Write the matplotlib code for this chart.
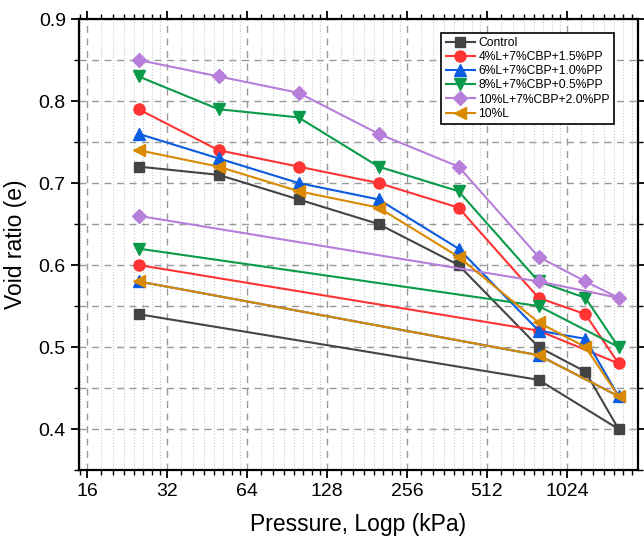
import numpy as np
import matplotlib
matplotlib.use("Agg")
import matplotlib.pyplot as plt
from matplotlib.ticker import LogLocator, FixedLocator, NullFormatter, MultipleLocator

plt.rcParams['font.family'] = ['Liberation Sans', 'DejaVu Sans']

# loading then unloading pressures (kPa)
load_p = [25, 50, 100, 200, 400, 800, 1200, 1600]
unload_p = [800, 25]

labels = ["Control", "4%L+7%CBP+1.5%PP", "6%L+7%CBP+1.0%PP",
          "8%L+7%CBP+0.5%PP", "10%L+7%CBP+2.0%PP", "10%L"]

control_load = [0.72, 0.71, 0.68, 0.65, 0.60, 0.50, 0.47, 0.40]
control_unload = [0.46, 0.54]
mix4_load = [0.79, 0.74, 0.72, 0.70, 0.67, 0.56, 0.54, 0.48]
mix4_unload = [0.52, 0.60]
mix6_load = [0.76, 0.73, 0.70, 0.68, 0.62, 0.52, 0.51, 0.44]
mix6_unload = [0.49, 0.58]
mix8_load = [0.83, 0.79, 0.78, 0.72, 0.69, 0.58, 0.56, 0.50]
mix8_unload = [0.55, 0.62]
mix10_load = [0.85, 0.83, 0.81, 0.76, 0.72, 0.61, 0.58, 0.56]
mix10_unload = [0.58, 0.66]
lime10_load = [0.74, 0.72, 0.69, 0.67, 0.61, 0.53, 0.50, 0.44]
lime10_unload = [0.49, 0.58]

series = [(control_load, control_unload), (mix4_load, mix4_unload),
          (mix6_load, mix6_unload), (mix8_load, mix8_unload),
          (mix10_load, mix10_unload), (lime10_load, lime10_unload)]
colors = ['#444444', '#ff3333', '#0b5ce0', '#0a9a4a', '#b77fd9', '#d98a00']
markers = ['s', 'o', '^', 'v', 'D', '<']
sizes = [7, 8, 8, 8, 7, 8]

xticks = [16, 32, 64, 128, 256, 512, 1024]
minor_subs = np.arange(1, 2, 0.125)

fig = plt.figure(figsize=(6.44, 5.43), dpi=100)
ax = fig.add_axes([0.1227, 0.1344, 0.868, 0.8306])

x = load_p + unload_p
for (ld, ul), lab, c, m, s in zip(series, labels, colors, markers, sizes):
    ax.plot(x, ld + ul, color=c, marker=m, markersize=s, lw=1.5, label=lab)

ax.set_xscale('log', base=2)
ax.set_xlim(14.93, 1894)
ax.set_ylim(0.35, 0.9)
ax.xaxis.set_major_locator(FixedLocator(xticks))
ax.set_xticklabels([str(t) for t in xticks])
ax.xaxis.set_minor_locator(LogLocator(base=2, subs=minor_subs))
ax.xaxis.set_minor_formatter(NullFormatter())
ax.yaxis.set_major_locator(MultipleLocator(0.1))
ax.yaxis.set_minor_locator(MultipleLocator(0.05))

ax.grid(True, which='major', axis='both', ls=(0, (5, 4)), color='#999999', lw=1)
ax.grid(True, which='minor', axis='y', ls=(0, (5, 4)), color='#999999', lw=1)
ax.grid(True, which='minor', axis='x', ls=':', color='#c8c8c8', lw=0.8)

# ticks outward on every side
ax.tick_params(which='major', direction='out', length=6, width=1.3, labelsize=14,
               top=True, right=True)
ax.tick_params(which='minor', direction='out', length=3.5, width=1,
               top=True, right=True)
for sp in ax.spines.values():
    sp.set_linewidth(1.6)

ax.set_xlabel('Pressure, Logp (kPa)', fontsize=16.5, labelpad=9)
ax.set_ylabel('Void ratio (e)', fontsize=16.5, labelpad=8)

leg = ax.legend(loc='upper right', bbox_to_anchor=(0.968, 0.983), fontsize=8.7,
                frameon=True, fancybox=False, edgecolor='black',
                handlelength=2.4, labelspacing=0.18, borderpad=0.35, handletextpad=0.3)
leg.get_frame().set_linewidth(1.2)
leg.get_frame().set_alpha(1)

fig.savefig('out.png', dpi=100)
